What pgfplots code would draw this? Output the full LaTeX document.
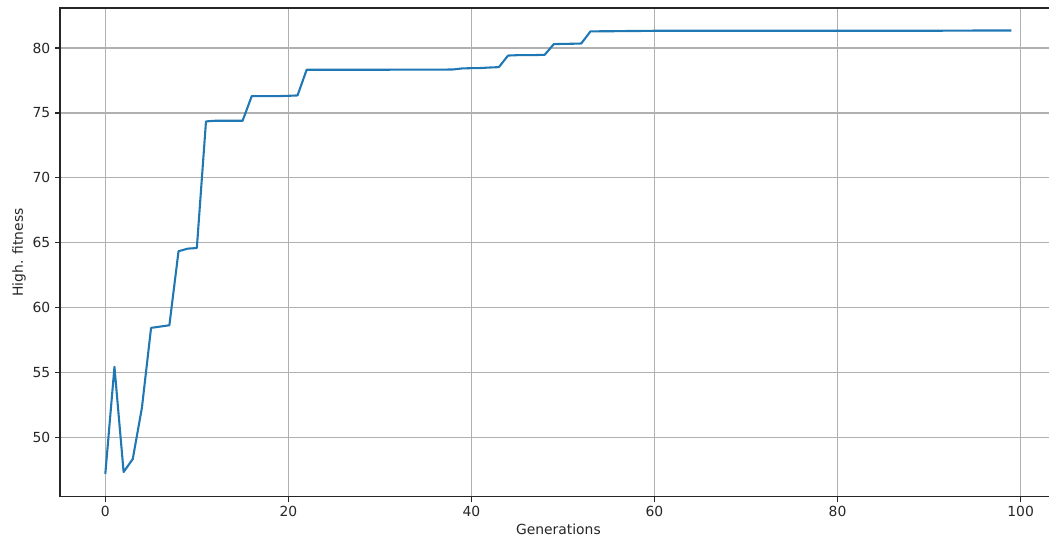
\documentclass[border=0pt]{standalone}
\usepackage{fontspec}
\setmainfont{DejaVu Sans}
\usepackage{pgfplots}
\pgfplotsset{compat=1.18}
\definecolor{mplblue}{HTML}{1F77B4}
\definecolor{gridgray}{HTML}{B0B0B0}
\begin{document}
\begin{tikzpicture}
\useasboundingbox (-43.2pt,-31.7pt) rectangle (712.1pt,357.8pt);
\begin{axis}[
  scale only axis,
  width=717.7pt, height=352pt,
  at={(0pt,0pt)}, anchor=south west,
  xmin=-4.95, xmax=103.95,
  ymin=45.43, ymax=83.08,
  xtick={0,20,40,60,80,100},
  ytick={50,55,60,65,70,75,80},
  grid=major,
  major grid style={gridgray, line width=0.8pt},
  axis line style={line width=0.8pt, black!85},
  tick style={line width=0.8pt, black!85},
  tick align=outside,
  major tick length=3.5pt,
  xtick pos=bottom, ytick pos=left,
  ticklabel style={font=\fontsize{10}{12}\selectfont, text=black!85},
  /pgf/number format/assume math mode=true,
  xlabel={Generations},
  ylabel={High. fitness},
  label style={font=\fontsize{10}{12}\selectfont, text=black!85},
  xlabel style={yshift=2pt},
  ylabel style={yshift=-2pt},
]
\addplot[mplblue, line width=1.5pt, line join=round] coordinates {
(0,47.2) (1,55.45) (2,47.35) (3,48.35) (4,52.3) (5,58.45) (6,58.55) (7,58.65)
(8,64.35) (9,64.55) (10,64.6) (11,74.35) (12,74.4) (13,74.4) (14,74.4) (15,74.4)
(16,76.3) (17,76.3) (18,76.3) (19,76.3) (20,76.32) (21,76.35)
(22,78.33) (23,78.33) (24,78.33) (25,78.33) (26,78.33) (27,78.33) (28,78.33) (29,78.33)
(30,78.33) (31,78.33) (32,78.34) (33,78.34) (34,78.34) (35,78.34) (36,78.34) (37,78.34)
(38,78.35) (39,78.43) (40,78.45) (41,78.46) (42,78.5) (43,78.53)
(44,79.42) (45,79.45) (46,79.46) (47,79.46) (48,79.48)
(49,80.3) (50,80.32) (51,80.33) (52,80.35)
(53,81.28) (54,81.29) (55,81.29) (56,81.3) (57,81.31) (58,81.31) (59,81.32)
(60,81.33) (61,81.33) (62,81.33) (63,81.33) (64,81.33) (65,81.33) (66,81.33) (67,81.33)
(68,81.33) (69,81.33) (70,81.33) (71,81.33) (72,81.33) (73,81.33) (74,81.33) (75,81.33)
(76,81.33) (77,81.33) (78,81.33) (79,81.33) (80,81.33) (81,81.33) (82,81.33) (83,81.33)
(84,81.33) (85,81.33) (86,81.33) (87,81.33) (88,81.33) (89,81.33) (90,81.33) (91,81.33)
(92,81.34) (93,81.34) (94,81.34) (95,81.35) (96,81.35) (97,81.35) (98,81.35) (99,81.35)
};
\end{axis}
\end{tikzpicture}
\end{document}
